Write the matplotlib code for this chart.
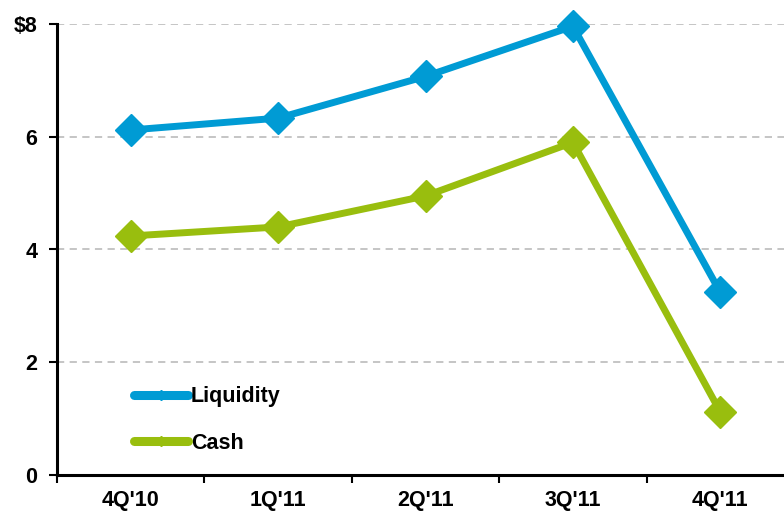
import matplotlib
matplotlib.use("Agg")
import matplotlib.pyplot as plt
from matplotlib.lines import Line2D

quarters = ["4Q'10", "1Q'11", "2Q'11", "3Q'11", "4Q'11"]
liquidity = [6.12, 6.33, 7.07, 7.96, 3.24]
cash = [4.24, 4.40, 4.95, 5.90, 1.12]
y_ticks = [0, 2, 4, 6, 8]
y_labels = ["0", "2", "4", "6", "$8"]

blue = "#009BD4"
green = "#99BE0E"

plt.rcParams["font.family"] = ["Liberation Sans", "DejaVu Sans"]
plt.rcParams["font.weight"] = "bold"

W, H = 784, 511
fig = plt.figure(figsize=(W / 100, H / 100), dpi=100)
ax = fig.add_axes([57 / W, 36 / H, (794 - 57) / W, (475 - 24) / H])

x = list(range(len(quarters)))
ax.plot(x, liquidity, color=blue, lw=5, marker="D", ms=16, clip_on=False, zorder=3)
ax.plot(x, cash, color=green, lw=5, marker="D", ms=16, clip_on=False, zorder=3)

ax.set_xlim(-0.5, len(quarters) - 0.5)
ax.set_ylim(0, 8)

ax.set_yticks(y_ticks)
ax.set_yticklabels(y_labels, fontsize=15.5, fontweight="bold")
ax.yaxis.grid(True, color="#C0C0C0", ls=(0, (4, 3)), lw=1.3)
ax.set_axisbelow(True)

# boundary ticks between categories, labels centred with no tick mark
ax.set_xticks([i - 0.5 for i in range(len(quarters) + 1)])
ax.set_xticklabels([])
ax.set_xticks(x, minor=True)
ax.set_xticklabels(quarters, minor=True, fontsize=15.5, fontweight="bold")
ax.tick_params(axis="x", which="minor", length=0, pad=11)
ax.tick_params(axis="x", which="major", length=6, width=1.5, direction="out")
ax.tick_params(axis="y", length=6, width=1.5, pad=8)

for s in ["top", "right"]:
    ax.spines[s].set_visible(False)
for s in ["left", "bottom"]:
    ax.spines[s].set_linewidth(2.2)

handles = [
    Line2D([], [], color=blue, lw=6.5, marker="D", ms=5, solid_capstyle="round"),
    Line2D([], [], color=green, lw=6.5, marker="D", ms=5, solid_capstyle="round"),
]
ax.legend(handles, ["Liquidity", "Cash"], loc="upper left",
          bbox_to_anchor=(0.078, 0.24), frameon=False,
          handlelength=2.5, handletextpad=0.15, labelspacing=1.2,
          prop={"weight": "bold", "size": 15.5})

fig.savefig("out.png", dpi=100)
